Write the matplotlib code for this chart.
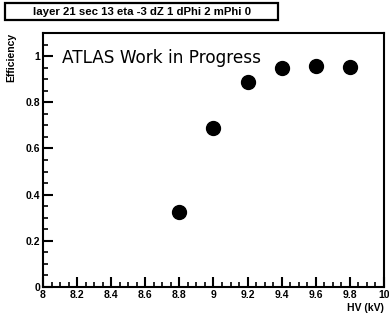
import numpy as np
import matplotlib
matplotlib.use('Agg')
import matplotlib.pyplot as plt
from matplotlib.ticker import MultipleLocator
from matplotlib.patches import Rectangle

hv = [8.8, 9.0, 9.2, 9.4, 9.6, 9.8]            # kV
eff = [0.326, 0.687, 0.887, 0.948, 0.957, 0.952]
title = 'layer 21 sec 13 eta -3 dZ 1 dPhi 2 mPhi 0'

plt.rcParams['font.family'] = ['Liberation Sans', 'DejaVu Sans']

fig = plt.figure(figsize=(3.89, 3.2), dpi=100)
ax = fig.add_axes([0.1105, 0.103, 0.8765, 0.794])

ax.plot(hv, eff, 'o', color='black', markersize=10)

ax.set_xlim(8, 10)
ax.set_ylim(0, 1.1)
ax.xaxis.set_minor_locator(MultipleLocator(0.05))
ax.yaxis.set_minor_locator(MultipleLocator(0.05))
ax.set_xticks(np.arange(8, 10.01, 0.2))
ax.set_xticklabels(['8', '8.2', '8.4', '8.6', '8.8', '9', '9.2', '9.4', '9.6', '9.8', '10'])
ax.set_yticks(np.arange(0, 1.01, 0.2))
ax.set_yticklabels(['0', '0.2', '0.4', '0.6', '0.8', '1'])
ax.tick_params(which='major', direction='in', length=7, width=1.5, labelsize=7.5, pad=2)
ax.tick_params(which='minor', direction='in', length=3.5, width=1.2)
for lab in ax.get_xticklabels() + ax.get_yticklabels():
    lab.set_fontweight('bold')
for s in ax.spines.values():
    s.set_linewidth(1.5)

ax.text(0.055, 0.9, 'ATLAS Work in Progress', transform=ax.transAxes,
        fontsize=12.2, family='DejaVu Sans', va='center')

fig.text(0.987, 0.022, 'HV (kV)', ha='right', va='bottom', fontsize=7.5, fontweight='bold')
fig.text(0.03, 0.897, 'Efficiency', rotation=90, ha='center', va='top', fontsize=7.5, fontweight='bold')

fig.patches.append(Rectangle((0.013, 0.936), 0.702, 0.055, transform=fig.transFigure,
                             facecolor='white', edgecolor='black', linewidth=1.6))
fig.text(0.365, 0.962, title, ha='center', va='center', fontsize=8.2, fontweight='bold')

plt.savefig('out.png', dpi=100)
